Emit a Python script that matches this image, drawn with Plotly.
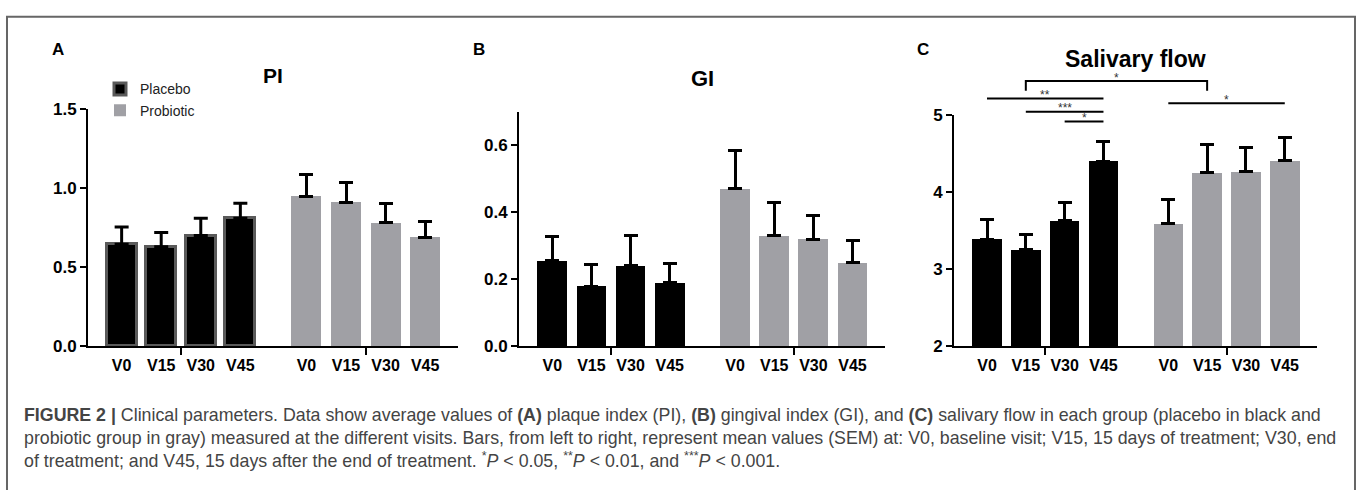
import plotly.graph_objects as go

# ---------------- data ----------------
visits = ["V0", "V15", "V30", "V45"]
group_names = ["Placebo", "Probiotic"]

pi_placebo = [0.645, 0.63, 0.70, 0.81]
pi_placebo_sem = [0.11, 0.09, 0.11, 0.095]
pi_probiotic = [0.95, 0.91, 0.78, 0.69]
pi_probiotic_sem = [0.135, 0.125, 0.125, 0.10]

gi_placebo = [0.255, 0.18, 0.24, 0.19]
gi_placebo_sem = [0.072, 0.065, 0.09, 0.058]
gi_probiotic = [0.47, 0.33, 0.32, 0.25]
gi_probiotic_sem = [0.115, 0.10, 0.07, 0.065]

sf_placebo = [3.39, 3.25, 3.63, 4.40]
sf_placebo_sem = [0.25, 0.20, 0.23, 0.25]
sf_probiotic = [3.59, 4.25, 4.26, 4.41]
sf_probiotic_sem = [0.31, 0.36, 0.32, 0.29]

pi_ticks = [0.0, 0.5, 1.0, 1.5]
gi_ticks = [0.0, 0.2, 0.4, 0.6]
sf_ticks = [2, 3, 4, 5]

# significance comparisons in panel C: (group a, visit a, group b, visit b, label)
sf_significance = [
    ("Placebo", 1, "Probiotic", 1, "*"),
    ("Placebo", 0, "Placebo", 3, "**"),
    ("Probiotic", 0, "Probiotic", 3, "*"),
    ("Placebo", 1, "Placebo", 3, "***"),
    ("Placebo", 2, "Placebo", 3, "*"),
]

# ---------------- layout helpers ----------------
W, H = 1357, 490
def px(x):
    return x / W
def py(y):
    return 1 - y / H

GROUP_GAP = 0.67
n = len(visits)
positions = {
    "Placebo": [i for i in range(n)],
    "Probiotic": [i + n + GROUP_GAP for i in range(n)],
}
group_centers = [sum(positions[g]) / n for g in group_names]

BLACK = "#000000"
GRAY = "#a0a0a5"
FONT = "Liberation Sans, Arial, sans-serif"

panels = [
    dict(key="", placebo=pi_placebo, psem=pi_placebo_sem, probiotic=pi_probiotic, rsem=pi_probiotic_sem,
         yrange=[0, 1.5], ticks=pi_ticks, fmt=".1f", xdom=(88, 458), ytop=104,
         title="PI", tpos=(273, 69), tsize=21, letter="A", lpos=(58, 42), outline=True),
    dict(key="2", placebo=gi_placebo, psem=gi_placebo_sem, probiotic=gi_probiotic, rsem=gi_probiotic_sem,
         yrange=[0, 0.7], ticks=gi_ticks, fmt=".1f", xdom=(519, 885), ytop=107,
         title="GI", tpos=(702, 72), tsize=22, letter="B", lpos=(479, 42), outline=False),
    dict(key="3", placebo=sf_placebo, psem=sf_placebo_sem, probiotic=sf_probiotic, rsem=sf_probiotic_sem,
         yrange=[2, 5], ticks=sf_ticks, fmt="d", xdom=(954, 1317), ytop=110,
         title="Salivary flow", tpos=(1135, 52), tsize=23, letter="C", lpos=(923, 42), outline=False),
]

fig = go.Figure()
annotations = []
shapes = []
layout = {}
Y_BOTTOM = 351

for p in panels:
    k = p["key"]
    xa, ya = "x" + k, "y" + k
    first = (k == "")
    for g, vals, sem, col in [("Placebo", p["placebo"], p["psem"], BLACK),
                              ("Probiotic", p["probiotic"], p["rsem"], GRAY)]:
        line_w = 3 if (p["outline"] and g == "Placebo") else 0
        fig.add_trace(go.Bar(
            x=positions[g], y=vals, width=0.76, name=g,
            legendgroup=g, showlegend=first,
            marker=dict(color=col, line=dict(color="#5a5a5a", width=line_w)),
            error_y=dict(type="data", array=sem, arrayminus=[0] * len(sem), symmetric=False,
                         color=BLACK, thickness=3, width=7),
            xaxis=xa, yaxis=ya,
        ))
    layout["xaxis" + k] = dict(
        domain=[px(p["xdom"][0]), px(p["xdom"][1])], anchor=ya,
        range=[-0.85, 8.5],
        tickmode="array", tickvals=positions["Placebo"] + positions["Probiotic"],
        ticktext=visits + visits, ticks="", ticklabelstandoff=3,
        tickfont=dict(family=FONT, size=16, color=BLACK, weight="bold"),
        showline=True, linecolor=BLACK, linewidth=2,
        showgrid=False, zeroline=False, fixedrange=True,
        minor=dict(tickmode="array", tickvals=group_centers, ticks="outside",
                   ticklen=7, tickwidth=2, tickcolor=BLACK),
    )
    layout["yaxis" + k] = dict(
        domain=[py(Y_BOTTOM), py(p["ytop"])], anchor=xa,
        range=p["yrange"], tickmode="array", tickvals=p["ticks"], tickformat=p["fmt"],
        ticks="outside", ticklen=6, tickwidth=2, tickcolor=BLACK,
        tickfont=dict(family=FONT, size=17, color=BLACK, weight="bold"),
        showline=True, linecolor=BLACK, linewidth=2,
        showgrid=False, zeroline=False, fixedrange=True,
    )
    annotations.append(dict(text="<b>%s</b>" % p["title"], x=px(p["tpos"][0]), y=py(p["tpos"][1]),
                            xref="paper", yref="paper", xanchor="center", yanchor="middle",
                            showarrow=False, font=dict(family=FONT, size=p["tsize"], color=BLACK)))
    annotations.append(dict(text="<b>%s</b>" % p["letter"], x=px(p["lpos"][0]), y=py(p["lpos"][1]),
                            xref="paper", yref="paper", xanchor="center", yanchor="middle",
                            showarrow=False, font=dict(family=FONT, size=17, color=BLACK)))

# significance lines for panel C (pixel rows of each comparison line)
sig_rows = [75, 93, 98, 107, 117]
for (ga, ia, gb, ib, lab), row in zip(sf_significance, sig_rows):
    xa_, xb_ = positions[ga][ia], positions[gb][ib]
    if ga != gb:
        shapes.append(dict(type="path", xref="x3", yref="paper",
                           path="M %f,%f L %f,%f L %f,%f L %f,%f" % (
                               xa_, py(row + 10), xa_, py(row), xb_, py(row), xb_, py(row + 10)),
                           line=dict(color=BLACK, width=2)))
    else:
        shapes.append(dict(type="line", xref="x3", yref="paper", x0=xa_, x1=xb_,
                           y0=py(row), y1=py(row), line=dict(color=BLACK, width=2)))
    annotations.append(dict(text=lab, x=(xa_ + xb_) / 2, y=py(row - 3.5), xref="x3", yref="paper",
                            xanchor="center", yanchor="middle", showarrow=False,
                            font=dict(family=FONT, size=12, color="#333333")))

# outer frame (left, top, right)
shapes.append(dict(type="path", xref="paper", yref="paper",
                   path="M %f,%f L %f,%f L %f,%f L %f,%f" % (
                       px(7), py(520), px(7), py(8), px(1355), py(8), px(1355), py(520)),
                   line=dict(color="#666666", width=2)))

caption = ("<b>FIGURE 2 |</b> Clinical parameters. Data show average values of <b>(A)</b> plaque index (PI), "
           "<b>(B)</b> gingival index (GI), and <b>(C)</b> salivary flow in each group (placebo in black and<br>"
           "probiotic group in gray) measured at the different visits. Bars, from left to right, represent mean "
           "values (SEM) at: V0, baseline visit; V15, 15 days of treatment; V30, end<br>"
           "of treatment; and V45, 15 days after the end of treatment. <sup>*</sup><i>P</i> &lt; 0.05, "
           "<sup>**</sup><i>P</i> &lt; 0.01, and <sup>***</sup><i>P</i> &lt; 0.001.")
annotations.append(dict(text=caption, x=px(22), y=py(446), xref="paper", yref="paper",
                        xanchor="left", yanchor="middle", align="left", showarrow=False,
                        font=dict(family=FONT, size=17.8, color="#444444")))

fig.update_layout(
    width=W, height=H, margin=dict(l=0, r=0, t=0, b=0),
    paper_bgcolor="white", plot_bgcolor="white",
    barmode="overlay", bargap=0,
    legend=dict(x=px(100), y=py(67), xanchor="left", yanchor="top",
                font=dict(family=FONT, size=14, color="#222222"),
                bgcolor="rgba(0,0,0,0)", traceorder="normal"),
    annotations=annotations, shapes=shapes,
    **layout,
)

fig.write_html("out.html")
